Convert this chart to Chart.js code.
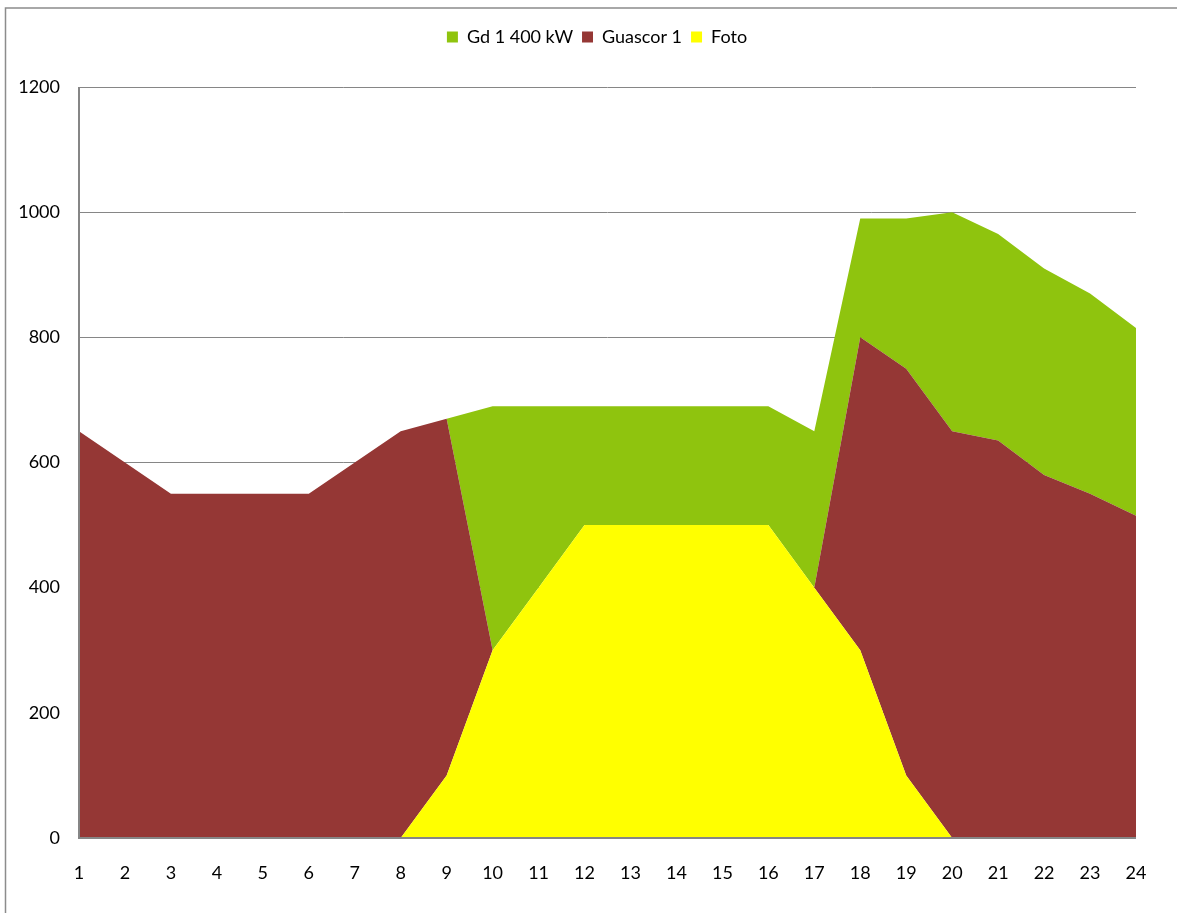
<!DOCTYPE html>
<html lang="es">
<head>
    <meta charset="UTF-8">
    <title>Gd / Guascor / Foto</title>
    <script src="https://cdn.jsdelivr.net/npm/chart.js@4.4.1/dist/chart.umd.min.js"></script>
    <style>
        html, body { margin: 0; padding: 0; background: #ffffff; overflow: hidden; }
        #wrap { position: absolute; left: 0; top: 0; width: 1177px; height: 913px; }
    </style>
</head>
<body>
    <div id="wrap"><canvas id="chart" width="1177" height="913"></canvas></div>

    <script>
        // hours on the x axis
        const hours = ['1','2','3','4','5','6','7','8','9','10','11','12','13','14','15','16','17','18','19','20','21','22','23','24'];

        // kW per hour, stacked: Foto at the bottom, then Guascor 1, then Gd 1 400 kW
        const foto    = [0, 0, 0, 0, 0, 0, 0, 0, 100, 300, 400, 500, 500, 500, 500, 500, 400, 300, 100, 0, 0, 0, 0, 0];
        const guascor = [650, 600, 550, 550, 550, 550, 600, 650, 570, 0, 0, 0, 0, 0, 0, 0, 0, 500, 650, 650, 635, 580, 550, 515];
        const gd      = [0, 0, 0, 0, 0, 0, 0, 0, 0, 390, 290, 190, 190, 190, 190, 190, 250, 190, 240, 350, 330, 330, 320, 300];

        const FONT = 'Lato, "Open Sans", sans-serif';
        const AXIS_GREY = '#868686';

        // extra room under the legend, legend nudged right, axis lines / outer frame on top
        const framePlugin = {
            id: 'framePlugin',
            afterInit(chart) {
                const lg = chart.legend;
                if (lg) {
                    const origFit = lg.fit;
                    lg.fit = function () {
                        origFit.call(this);
                        this.height += 31;
                    };
                }
            },
            afterLayout(chart) {
                if (chart.legend) {
                    chart.legend.left += 58;
                }
            },
            afterDatasetsDraw(chart) {
                const ctx = chart.ctx;
                const a = chart.chartArea;
                ctx.save();
                ctx.strokeStyle = AXIS_GREY;
                ctx.lineWidth = 2;
                ctx.beginPath();
                ctx.moveTo(a.left, a.top);
                ctx.lineTo(a.left, a.bottom);
                ctx.lineTo(a.right, a.bottom);
                ctx.stroke();
                ctx.restore();
            },
            afterDraw(chart) {
                const ctx = chart.ctx;
                ctx.save();
                ctx.strokeStyle = '#8c8c8c';
                ctx.lineWidth = 1.5;
                ctx.strokeRect(5.5, 8, chart.width + 20, chart.height + 20);
                ctx.restore();
            }
        };

        new Chart(document.getElementById('chart'), {
            type: 'line',
            data: {
                labels: hours,
                datasets: [
                    {
                        label: 'Foto',
                        data: foto,
                        backgroundColor: '#ffff00',
                        borderColor: '#ffff00',
                        fill: 'origin'
                    },
                    {
                        label: 'Guascor 1',
                        data: guascor,
                        backgroundColor: '#953735',
                        borderColor: '#953735',
                        fill: '-1'
                    },
                    {
                        label: 'Gd 1 400 kW',
                        data: gd,
                        backgroundColor: '#8fc40e',
                        borderColor: '#8fc40e',
                        fill: '-1'
                    }
                ]
            },
            options: {
                responsive: false,
                animation: false,
                layout: { padding: { left: 0, right: 41, top: 19, bottom: 0 } },
                elements: {
                    line: { borderWidth: 0, tension: 0 },
                    point: { radius: 0, hoverRadius: 0 }
                },
                plugins: {
                    tooltip: { enabled: false },
                    legend: {
                        position: 'top',
                        reverse: true,
                        labels: {
                            font: { family: FONT, size: 18 },
                            color: '#000000',
                            boxWidth: 11,
                            boxHeight: 11,
                            padding: 9
                        }
                    }
                },
                scales: {
                    x: {
                        offset: false,
                        grid: { display: false, drawTicks: false },
                        border: { display: false },
                        ticks: {
                            font: { family: FONT, size: 18 },
                            color: '#000000',
                            padding: 24,
                            maxRotation: 0,
                            autoSkip: false
                        },
                        afterFit(scale) { scale.height = 75; }
                    },
                    y: {
                        stacked: true,
                        min: 0,
                        max: 1200,
                        grid: { color: AXIS_GREY, lineWidth: 1, drawTicks: false },
                        border: { display: false },
                        ticks: {
                            stepSize: 200,
                            font: { family: FONT, size: 18 },
                            color: '#000000',
                            padding: 19,
                            callback: (v) => String(v)
                        },
                        afterFit(scale) { scale.width = 79; }
                    }
                }
            },
            plugins: [framePlugin]
        });
    </script>
</body>
</html>
